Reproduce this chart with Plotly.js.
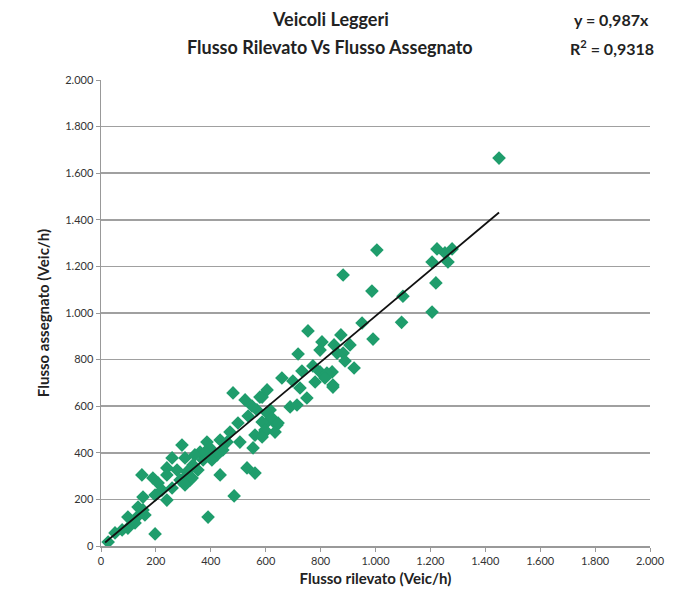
<!DOCTYPE html>
<html>
<head>
<meta charset="utf-8">
<script src="https://cdn.plot.ly/plotly-3.0.1.min.js"></script>
<style>html,body{margin:0;padding:0;background:#fff;}#chart{width:673px;height:602px;}</style>
</head>
<body>
<div id="chart"></div>
<script>
// Flusso rilevato (x) vs Flusso assegnato (y), veh/h
const rilevato = [1450,1224,1279,1253,1206,1264,1220,1206,1100,1095,1005,
  882,987,951,874,991,849,882,907,889,922,842,845,
  754,805,718,798,860,772,732,798,823,659,699,780,816,845,725,750,605,587,689,714,616,605,641,597,634,
  481,525,579,550,568,536,605,623,587,645,597,499,470,561,587,506,459,434,386,397,444,361,423,295,306,342,372,404,335,313,353,295,324,554,532,561,434,485,
  259,379,149,189,208,240,277,240,288,332,259,306,153,197,222,240,135,153,98,131,160,124,77,98,51,26,197,390];
const assegnato = [1665,1275,1275,1258,1219,1219,1129,1004,1072,960,1270,
  1163,1094,957,906,888,863,828,863,794,764,747,691,
  923,876,824,841,828,773,751,747,742,721,708,704,721,682,678,635,670,639,597,605,584,532,519,489,489,
  657,627,639,601,584,558,571,549,532,528,498,528,489,476,468,446,446,455,446,421,412,403,391,433,378,391,369,369,348,318,326,283,283,421,335,313,305,215,
  378,403,305,292,270,335,326,305,283,292,249,262,210,219,240,197,167,155,124,124,133,99,69,77,56,17,52,124];
const slope = 0.987;
const fitX = [15, 1450];
const fitY = fitX.map(v => v * slope);
const titleLines = ["Veicoli Leggeri", "Flusso Rilevato Vs Flusso Assegnato"];
const eqLines = ["y = 0,987x", "R<sup>2</sup> = 0,9318"];
const xTitle = "Flusso rilevato (Veic/h)";
const yTitle = "Flusso assegnato (Veic/h)";

const font = "Lato, 'Open Sans', sans-serif";
const data = [
  {x: rilevato, y: assegnato, type: "scatter", mode: "markers",
   marker: {symbol: "diamond", size: 10.5, color: "#1f9d6c"}, hoverinfo: "x+y"},
  {x: fitX, y: fitY, type: "scatter", mode: "lines",
   line: {color: "#111", width: 1.8}, hoverinfo: "skip"}
];
const layout = {
  width: 673, height: 602,
  margin: {l: 101, r: 23, t: 80, b: 56},
  paper_bgcolor: "#fff", plot_bgcolor: "#fff",
  showlegend: false,
  separators: ",.",
  font: {family: font, color: "#333"},
  xaxis: {range: [0, 2000], dtick: 200, tickformat: ",d", showgrid: false, zeroline: false,
    showline: true, linecolor: "#999", linewidth: 1.5, ticks: "outside", tickcolor: "#999", ticklen: 4,
    tickfont: {size: 11, color: "#333"},
    title: {text: "<b>" + xTitle + "</b>", font: {size: 15, color: "#222"}, standoff: 8}},
  yaxis: {range: [0, 2000], dtick: 200, tickformat: ",d", showgrid: true, gridcolor: "#a0a0a0", gridwidth: 1.5,
    zeroline: false, showline: true, linecolor: "#999", linewidth: 1.5, ticks: "outside", tickcolor: "#999", ticklen: 4,
    tickfont: {size: 11, color: "#333"},
    title: {text: "<b>" + yTitle + "</b>", font: {size: 15, color: "#222"}, standoff: 12}},
  annotations: [
    {text: "<b>" + titleLines[0] + "</b>", xref: "paper", yref: "paper", x: 0.418, xanchor: "center", y: 1, yanchor: "middle", yshift: 61, showarrow: false,
     font: {size: 18, color: "#222", family: font}},
    {text: "<b>" + titleLines[1] + "</b>", xref: "paper", yref: "paper", x: 0.418, xanchor: "center", y: 1, yanchor: "middle", yshift: 33, showarrow: false,
     font: {size: 18, color: "#222", family: font}},
    {text: "<b>" + eqLines[0] + "</b>", xref: "paper", yref: "paper", x: 0.93, xanchor: "center", y: 1, yanchor: "middle", yshift: 61, showarrow: false,
     font: {size: 16, color: "#222", family: font}},
    {text: "<b>" + eqLines[1] + "</b>", xref: "paper", yref: "paper", x: 0.93, xanchor: "center", y: 1, yanchor: "middle", yshift: 33, showarrow: false,
     font: {size: 16, color: "#222", family: font}}
  ]
};
Plotly.newPlot("chart", data, layout, {displayModeBar: false, staticPlot: true});
</script>
</body>
</html>
